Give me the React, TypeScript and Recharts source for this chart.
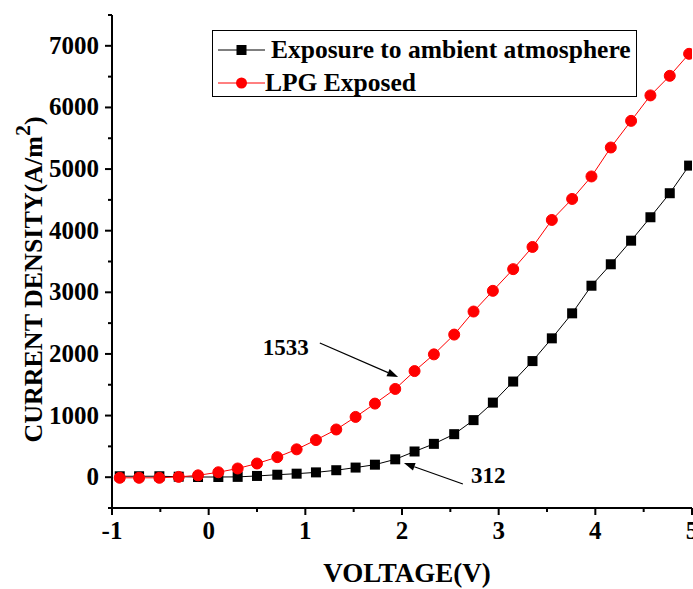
import React from 'react'
import { LineChart, Line, XAxis, YAxis, Legend, ReferenceLine } from 'recharts'

const voltage = [
  -0.92, -0.72, -0.51, -0.31, -0.11, 0.1, 0.3, 0.5, 0.71, 0.91, 1.11, 1.32, 1.52, 1.72, 1.93,
  2.13, 2.33, 2.54, 2.74, 2.94, 3.15, 3.35, 3.55, 3.76, 3.96, 4.16, 4.37, 4.57, 4.77, 4.97,
]
const ambient = [
  15, 15, 15, 8, 3, 3, 5, 20, 40, 57, 78, 113, 156, 203, 290,
  417, 541, 698, 926, 1210, 1552, 1884, 2253, 2659, 3107, 3455, 3838, 4218, 4608, 5056,
]
const lpg = [
  -10, -10, -10, 5, 30, 80, 141, 222, 325, 452, 603, 774, 978, 1194, 1432,
  1722, 1993, 2314, 2688, 3024, 3376, 3736, 4174, 4515, 4880, 5350, 5782, 6195, 6513, 6870,
]
const seriesNames = ['Exposure to ambient atmosphere', 'LPG Exposed']
const seriesColors = ['#000000', '#ff0000']
const xTicks = [-1, -0.5, 0, 0.5, 1, 1.5, 2, 2.5, 3, 3.5, 4, 4.5, 5]
const yTicks = [-500, 0, 500, 1000, 1500, 2000, 2500, 3000, 3500, 4000, 4500, 5000, 5500, 6000, 6500, 7000, 7500]
const annotations = [
  { label: '1533', from: [1.15, 2177], to: [1.96, 1626], dx: -11, dy: 12, anchor: 'end' },
  { label: '312', from: [2.63, -111], to: [2.02, 230], dx: 8, dy: -1, anchor: 'start' },
]

const FONT = '"Liberation Serif", "Times New Roman", serif'

const chartData = voltage.map((v, i) => ({ v, ambient: ambient[i], lpg: lpg[i] }))

const isMajorX = (v: number) => Number.isInteger(v)
const isMajorY = (v: number) => v % 1000 === 0

function makeTick(side: 'bottom' | 'top' | 'left' | 'right') {
  return (props: any) => {
    const { x, y, payload } = props
    const v = payload.value
    const major = side === 'bottom' || side === 'top' ? isMajorX(v) : isMajorY(v)
    const len = major ? 7 : 4
    const line = { stroke: '#000', strokeWidth: 2 }
    if (side === 'bottom') {
      return (
        <g>
          <line x1={x} x2={x} y1={y} y2={y + len} {...line} />
          {major && (
            <text x={x} y={y + 31} textAnchor="middle" fontFamily={FONT} fontWeight="bold" fontSize={25} fill="#000">
              {v}
            </text>
          )}
        </g>
      )
    }
    if (side === 'left') {
      return (
        <g>
          <line x1={x - len} x2={x} y1={y} y2={y} {...line} />
          {major && (
            <text x={x - 13} y={y + 8} textAnchor="end" fontFamily={FONT} fontWeight="bold" fontSize={25} fill="#000">
              {v}
            </text>
          )}
        </g>
      )
    }
    if (side === 'top') {
      return <line x1={x} x2={x} y1={y} y2={y + len + 1} {...line} />
    }
    return <line x1={x} x2={x - len} y1={y} y2={y} {...line} />
  }
}

const SquareDot = (props: any) => {
  const { cx, cy } = props
  if (cx == null || cy == null) return null
  return <rect x={cx - 5} y={cy - 5} width={10} height={10} fill="#000" />
}

const RoundDot = (props: any) => {
  const { cx, cy } = props
  if (cx == null || cy == null) return null
  return <circle cx={cx} cy={cy} r={5.5} fill="#ff0000" stroke="#ff0000" />
}

const arrowShape = (text: string, dx: number, dy: number, anchor: string) => (p: any) => {
  const { x1, y1, x2, y2 } = p
  const ang = Math.atan2(y2 - y1, x2 - x1)
  const c = Math.cos(ang)
  const s = Math.sin(ang)
  const bx = x2 - 11 * c
  const by = y2 - 11 * s
  return (
    <g>
      <line x1={x1} y1={y1} x2={bx} y2={by} stroke="#000" strokeWidth={1.2} />
      <polygon points={`${x2},${y2} ${bx - 4 * s},${by + 4 * c} ${bx + 4 * s},${by - 4 * c}`} fill="#000" />
      <text x={x1 + dx} y={y1 + dy} textAnchor={anchor as any} fontFamily={FONT} fontWeight="bold" fontSize={23} fill="#000">
        {text}
      </text>
    </g>
  )
}

const YTitle = (props: any) => {
  const vb = props.viewBox || { x: 0, y: 15, width: 112, height: 493 }
  const cx = vb.x + 42
  const cy = vb.y + vb.height / 2 + 18
  return (
    <text
      transform={`translate(${cx},${cy}) rotate(-90)`}
      textAnchor="middle"
      fontFamily={FONT}
      fontWeight="bold"
      fontSize={26}
      fill="#000"
    >
      CURRENT DENSITY(A/m
      <tspan dy={-12} fontSize={22}>2</tspan>
      <tspan dy={12}>)</tspan>
    </text>
  )
}

const XTitle = (props: any) => {
  const vb = props.viewBox || { x: 112, y: 508, width: 580, height: 81 }
  return (
    <text x={vb.x + vb.width / 2 + 5} y={vb.y + 74} textAnchor="middle" fontFamily={FONT} fontWeight="bold" fontSize={27} fill="#000">
      VOLTAGE(V)
    </text>
  )
}

function LegendBox() {
  return (
    <div
      style={{
        width: 425,
        height: 67,
        boxSizing: 'border-box',
        border: '1.5px solid #000',
        background: '#fff',
        fontFamily: FONT,
        fontWeight: 'bold',
        fontSize: 25.5,
        paddingTop: 2,
      }}
    >
      {seriesNames.map((name, i) => (
        <div key={name} style={{ display: 'flex', alignItems: 'center', height: 33, lineHeight: '33px' }}>
          <svg width={54} height={20} style={{ marginLeft: 4, flex: 'none' }}>
            <line x1={1} x2={48} y1={10} y2={10} stroke={seriesColors[i]} strokeWidth={1} />
            {i === 0 ? (
              <rect x={19.5} y={5} width={10} height={10} fill="#000" />
            ) : (
              <circle cx={24.5} cy={10} r={5.5} fill="#ff0000" />
            )}
          </svg>
          <span style={{ marginLeft: i === 0 ? 0 : -6, whiteSpace: 'nowrap' }}>{name}</span>
        </div>
      ))}
    </div>
  )
}

export default function App() {
  return (
    <div style={{ position: 'absolute', left: 0, top: 0, width: 693, height: 589, background: '#fff' }}>
      <LineChart width={693} height={589} data={chartData} margin={{ top: 15, right: 1, bottom: 0, left: 0 }}>
        <XAxis
          dataKey="v"
          type="number"
          domain={[-1, 5]}
          ticks={xTicks}
          interval={0}
          allowDataOverflow
          height={81}
          tickSize={0}
          tickMargin={0}
          tick={makeTick('bottom')}
          axisLine={{ stroke: '#000', strokeWidth: 2 }}
          label={<XTitle />}
        />
        <XAxis
          xAxisId="top"
          dataKey="v"
          type="number"
          orientation="top"
          mirror
          domain={[-1, 5]}
          ticks={xTicks}
          interval={0}
          allowDataOverflow
          height={0}
          tickSize={0}
          tickMargin={0}
          tick={makeTick('top')}
          axisLine={{ stroke: '#000', strokeWidth: 2 }}
        />
        <YAxis
          type="number"
          domain={[-500, 7500]}
          ticks={yTicks}
          interval={0}
          allowDataOverflow
          width={112}
          tickSize={0}
          tickMargin={0}
          tick={makeTick('left')}
          axisLine={{ stroke: '#000', strokeWidth: 2 }}
          label={<YTitle />}
        />
        <YAxis
          yAxisId="right"
          orientation="right"
          mirror
          type="number"
          domain={[-500, 7500]}
          ticks={yTicks}
          interval={0}
          allowDataOverflow
          width={0}
          tickSize={0}
          tickMargin={0}
          tick={makeTick('right')}
          axisLine={{ stroke: '#000', strokeWidth: 2 }}
        />
        <Legend
          layout="vertical"
          align="center"
          verticalAlign="middle"
          wrapperStyle={{ top: 30, left: 212, width: 425, height: 67 }}
          content={() => <LegendBox />}
        />
        {annotations.map((a) => (
          <ReferenceLine
            key={a.label}
            segment={[
              { x: a.from[0], y: a.from[1] },
              { x: a.to[0], y: a.to[1] },
            ]}
            ifOverflow="visible"
            shape={arrowShape(a.label, a.dx, a.dy, a.anchor)}
          />
        ))}
        <Line
          dataKey="ambient"
          name={seriesNames[0]}
          stroke={seriesColors[0]}
          strokeWidth={1}
          dot={<SquareDot />}
          activeDot={false}
          isAnimationActive={false}
        />
        <Line
          dataKey="lpg"
          name={seriesNames[1]}
          stroke={seriesColors[1]}
          strokeWidth={1}
          dot={<RoundDot />}
          activeDot={false}
          isAnimationActive={false}
        />
      </LineChart>
    </div>
  )
}
